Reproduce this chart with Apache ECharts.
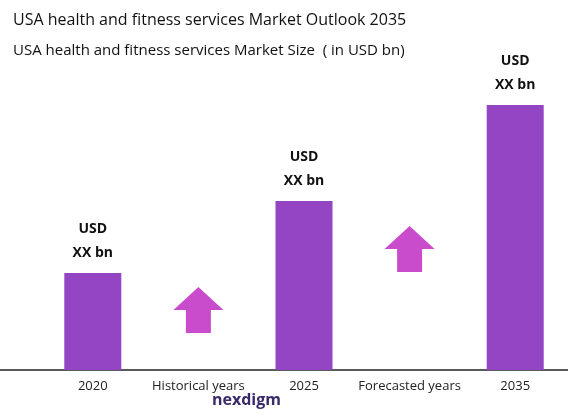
<!DOCTYPE html><html><head><meta charset="utf-8"><script src="https://cdn.jsdelivr.net/npm/echarts@6/dist/echarts.min.js"></script>
<style>body{margin:0}#c{width:568px;height:419px}</style></head><body><div id="c"></div><script>
const categories=['2020','Historical years','2025','Forecasted years','2035'];
const barValues=[97,null,169,null,265];
const arrowValues=[null,60,null,121,null];
const arrow='path://M0,11 L10,0 L20,11 L15,11 L15,22 L5,22 L5,11 Z';
const ch=echarts.init(document.getElementById('c'));
ch.setOption({
 title:[{text:'USA health and fitness services Market Outlook 2035',left:8,top:7,textStyle:{fontFamily:'Open Sans',fontSize:16,fontWeight:'normal',color:'#111'}},
 {text:'USA health and fitness services Market Size  ( in USD bn)',left:8,top:38,textStyle:{fontFamily:'Open Sans',fontSize:15,fontWeight:'normal',color:'#111'}}],
 grid:{left:40,right:0,top:70,bottom:49},
 xAxis:{type:'category',data:categories,axisLine:{show:false},axisTick:{show:false},axisLabel:{interval:0,fontFamily:'Open Sans',fontSize:13,color:'#222',margin:10}},
 yAxis:{type:'value',min:0,max:300,show:false},
 series:[{type:'bar',data:barValues,barWidth:57,barGap:'-100%',itemStyle:{color:'#9445c3'},
  label:{show:true,position:'top',formatter:'USD\nXX bn',fontFamily:'Open Sans',fontWeight:'bold',fontSize:14,lineHeight:24,color:'#111',distance:8}},
  {type:'scatter',data:arrowValues,symbol:arrow,symbolSize:[50,46],itemStyle:{color:'#bb1fbf'}}],
 graphic:[{type:'line',shape:{x1:0,y1:370,x2:568,y2:370},style:{stroke:'#222',lineWidth:1.5}},
  {type:'text',left:212,top:392,style:{text:'nexdigm',fontFamily:'Open Sans',fontSize:16,fontWeight:'bold',fill:'#3a2a6a'}}]
});
</script></body></html>
